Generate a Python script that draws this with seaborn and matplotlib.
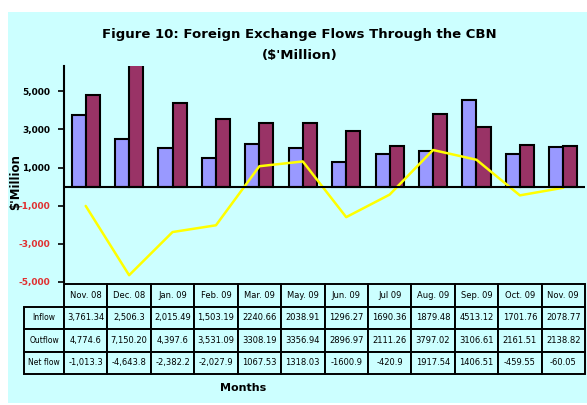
import pandas as pd
import numpy as np
import matplotlib.pyplot as plt
import seaborn as sns
from matplotlib.patches import Rectangle

months = ["Nov. 08", "Dec. 08", "Jan. 09", "Feb. 09", "Mar. 09", "May. 09",
          "Jun. 09", "Jul 09", "Aug. 09", "Sep. 09", "Oct. 09", "Nov. 09"]
inflow = [3761.34, 2506.3, 2015.49, 1503.19, 2240.66, 2038.91,
          1296.27, 1690.36, 1879.48, 4513.12, 1701.76, 2078.77]
outflow = [4774.6, 7150.20, 4397.6, 3531.09, 3308.19, 3356.94,
           2896.97, 2111.26, 3797.02, 3106.61, 2161.51, 2138.82]
netflow = [-1013.3, -4643.8, -2382.2, -2027.9, 1067.53, 1318.03,
           -1600.9, -420.9, 1917.54, 1406.51, -459.55, -60.05]

# table text as printed in the source
inflow_txt = ["3,761.34", "2,506.3", "2,015.49", "1,503.19", "2240.66", "2038.91",
              "1296.27", "1690.36", "1879.48", "4513.12", "1701.76", "2078.77"]
outflow_txt = ["4,774.6", "7,150.20", "4,397.6", "3,531.09", "3308.19", "3356.94",
               "2896.97", "2111.26", "3797.02", "3106.61", "2161.51", "2138.82"]
netflow_txt = ["-1,013.3", "-4,643.8", "-2,382.2", "-2,027.9", "1067.53", "1318.03",
               "-1600.9", "-420.9", "1917.54", "1406.51", "-459.55", "-60.05"]
row_labels = ["Inflow", "Outflow", "Net flow"]

yticks = [-5000, -3000, -1000, 1000, 3000, 5000]

bg = "#ccffff"
c_in = "#9999ff"
c_out = "#993366"

sns.set_style("white")
plt.rcParams['font.family'] = ['DejaVu Sans']
plt.rcParams['text.color'] = 'black'

fig = plt.figure(figsize=(5.87, 4.05), dpi=100)
fig.patch.set_facecolor("white")
fig.add_artist(Rectangle((8 / 587, 2 / 405), 1 - 8 / 587, (403 - 12) / 405,
                         transform=fig.transFigure, facecolor=bg,
                         edgecolor="none", zorder=-10))

ax = fig.add_axes([64 / 587, 1 - 282 / 405, 521 / 587, 216 / 405])
ax.set_facecolor(bg)

df = pd.DataFrame({
    "Month": months * 2,
    "Value": inflow + outflow,
    "Flow": ["Inflow"] * 12 + ["Outflow"] * 12,
})
sns.barplot(data=df, x="Month", y="Value", hue="Flow", order=months,
            palette=[c_in, c_out], saturation=1, edgecolor="black",
            linewidth=1.5, width=0.65, gap=0, legend=False, ax=ax, zorder=3)

sns.lineplot(x=np.arange(len(months)), y=netflow, color="#ffff00",
             linewidth=1.8, ax=ax, zorder=4)

ax.axhline(0, color="black", linewidth=1.5, zorder=5)
ax.set_xlim(-0.5, len(months) - 0.5)
ax.set_ylim(-5000, 6320)
ax.set_xticks([])
ax.set_xlabel("")
ax.set_ylabel("")
ax.set_yticks(yticks)
ax.set_yticklabels([f"{v:,}" for v in yticks], fontsize=6.5, fontweight="bold")
for lab, v in zip(ax.get_yticklabels(), yticks):
    lab.set_color("#e03030" if v < 0 else "black")
ax.tick_params(axis="y", direction="out", length=4, width=1.2, pad=6,
               left=True, color="black")
for side in ["top", "right", "bottom"]:
    ax.spines[side].set_visible(False)
ax.spines["left"].set_linewidth(1.5)
ax.spines["left"].set_color("black")

# data table below the plot, in its own axes; first column holds row labels
rows = [[lab] + vals for lab, vals in
        zip(row_labels, [inflow_txt, outflow_txt, netflow_txt])]
widths = [40 / 561] + [43.4 / 561] * len(months)
tax = fig.add_axes([24 / 587, 1 - 374 / 405, 561 / 587, 90 / 405])
tax.axis("off")
tbl = tax.table(cellText=rows, colLabels=[""] + months, colWidths=widths,
                cellLoc="center", bbox=[0, 0, 1, 1])
tbl.auto_set_font_size(False)
tbl.set_fontsize(6)
for (r, c), cell in tbl.get_celld().items():
    cell.set_facecolor(bg)
    cell.set_edgecolor("black")
    cell.set_linewidth(1.4)
    if c == 0:
        cell._loc = "left"
        cell.get_text().set_fontsize(5.5)
    if r == 0 and c == 0:
        cell.set_visible(False)

fig.text(0.51, 0.916, "Figure 10: Foreign Exchange Flows Through the CBN",
         ha="center", va="center", fontsize=9.5, fontweight="bold")
fig.text(0.51, 0.862, "($'Million)", ha="center", va="center",
         fontsize=9.5, fontweight="bold")
fig.text(0.026, 0.55, "$'Million", rotation=90, ha="center", va="center",
         fontsize=8.5, fontweight="bold")
fig.text(0.414, 0.042, "Months", ha="center", va="center",
         fontsize=8, fontweight="bold")

fig.savefig("out.png", dpi=100, facecolor=fig.get_facecolor())
